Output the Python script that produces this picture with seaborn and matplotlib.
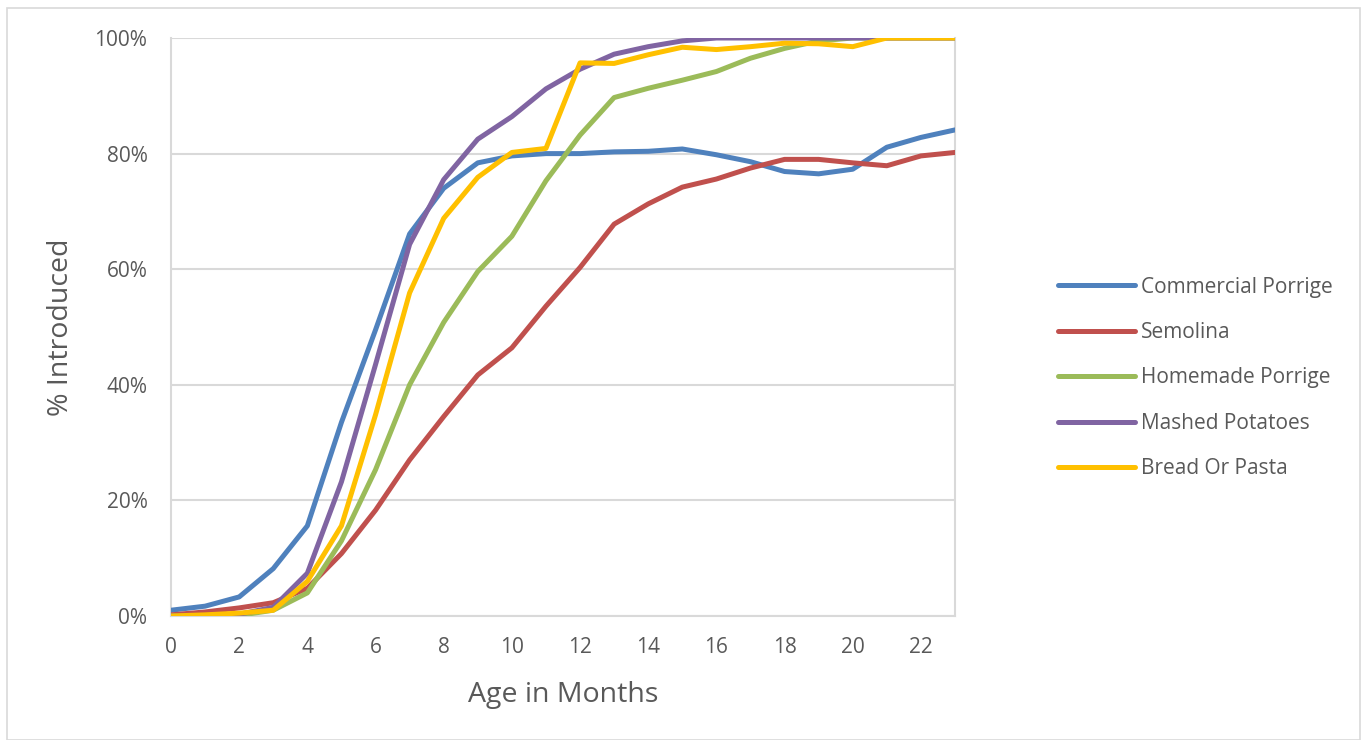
import matplotlib
matplotlib.use("Agg")
import matplotlib.pyplot as plt
from matplotlib.patches import Rectangle
from matplotlib.ticker import FuncFormatter
import pandas as pd
import seaborn as sns

months = list(range(24))

commercial_porrige = [1.0, 1.7, 3.3, 8.2, 15.6, 33.5, 49.5, 66.1, 74.0, 78.4, 79.6, 80.0,
                      80.0, 80.3, 80.4, 80.8, 79.8, 78.6, 76.9, 76.5, 77.3, 81.1, 82.8, 84.1]
semolina = [0.2, 0.7, 1.4, 2.3, 4.8, 10.8, 18.3, 27.0, 34.5, 41.7, 46.4, 53.6,
            60.3, 67.8, 71.3, 74.2, 75.6, 77.5, 79.0, 79.0, 78.4, 77.9, 79.6, 80.2]
homemade_porrige = [0.0, 0.0, 0.1, 1.0, 4.0, 13.0, 25.3, 40.0, 50.8, 59.6, 65.7, 75.3,
                    83.2, 89.7, 91.3, 92.7, 94.2, 96.5, 98.2, 99.5, 100.0, 100.0, 100.0, 100.0]
mashed_potatoes = [0.0, 0.0, 0.3, 1.5, 7.4, 23.2, 43.5, 64.3, 75.5, 82.5, 86.4, 91.2,
                   94.6, 97.2, 98.5, 99.5, 100.0, 100.0, 100.0, 100.0, 100.0, 100.0, 100.0, 100.0]
bread_or_pasta = [0.0, 0.2, 0.5, 1.0, 6.0, 15.6, 34.8, 55.9, 68.8, 75.9, 80.2, 80.9,
                  95.7, 95.6, 97.1, 98.4, 98.0, 98.5, 99.1, 99.0, 98.5, 100.0, 100.0, 100.0]

series_names = ["Commercial Porrige", "Semolina", "Homemade Porrige",
                "Mashed Potatoes", "Bread Or Pasta"]
series_values = [commercial_porrige, semolina, homemade_porrige,
                 mashed_potatoes, bread_or_pasta]
colors = ["#4F81BD", "#C0504D", "#9BBB59", "#8064A2", "#FFC000"]

x_ticks = list(range(0, 23, 2))
y_ticks = [0, 20, 40, 60, 80, 100]

frames = []
for name, vals in zip(series_names, series_values):
    frames.append(pd.DataFrame({"month": months, "pct": vals, "food": name}))
df = pd.concat(frames, ignore_index=True)

sns.set_style("white")
plt.rcParams["font.family"] = ["Open Sans", "DejaVu Sans"]
text_color = "#595959"
grid_color = "#D9D9D9"

W, H = 1362, 740
fig = plt.figure(figsize=(W / 100, H / 100), dpi=100)
ax = fig.add_axes([171 / W, 1 - 616 / H, (955 - 171) / W, (616 - 38) / H])

sns.lineplot(data=df, x="month", y="pct", hue="food", hue_order=series_names,
             palette=colors, linewidth=3.6, ax=ax, legend=True, zorder=3)

ax.set_xlim(0, 23)
ax.set_ylim(0, 100)
ax.set_xticks(x_ticks)
ax.set_yticks(y_ticks)
ax.yaxis.set_major_formatter(FuncFormatter(lambda v, p: f"{int(v)}%"))
ax.tick_params(axis="both", length=0, labelsize=15, colors=text_color)
ax.tick_params(axis="x", pad=15)
ax.tick_params(axis="y", pad=17)
ax.grid(axis="y", color=grid_color, linewidth=1.5, zorder=0)
ax.grid(axis="x", visible=False)
for side in ["left", "right", "bottom"]:
    ax.spines[side].set_visible(True)
    ax.spines[side].set_color(grid_color)
    ax.spines[side].set_linewidth(1.5)
ax.spines["top"].set_visible(False)

ax.set_xlabel("Age in Months", fontsize=20.5, color=text_color, labelpad=17)
ax.set_ylabel("% Introduced", fontsize=20.5, color=text_color, labelpad=14)

handles, labels = ax.get_legend_handles_labels()
leg = ax.legend(handles, labels, loc="center left",
                bbox_to_anchor=(1058 / W, 1 - 378 / H),
                bbox_transform=fig.transFigure, frameon=False, fontsize=15,
                handlelength=3.7, handletextpad=0.29, labelspacing=1.17,
                borderaxespad=0, borderpad=0)
for t in leg.get_texts():
    t.set_color(text_color)
for h in leg.get_lines():
    h.set_linewidth(3.6)

# Light outer frame around the chart area
fig.patches.append(Rectangle((7 / W, 0), (1360 - 7) / W, 1 - 8 / H,
                             transform=fig.transFigure, fill=False,
                             edgecolor=grid_color, linewidth=1.2))

fig.savefig("out.png", dpi=100)
